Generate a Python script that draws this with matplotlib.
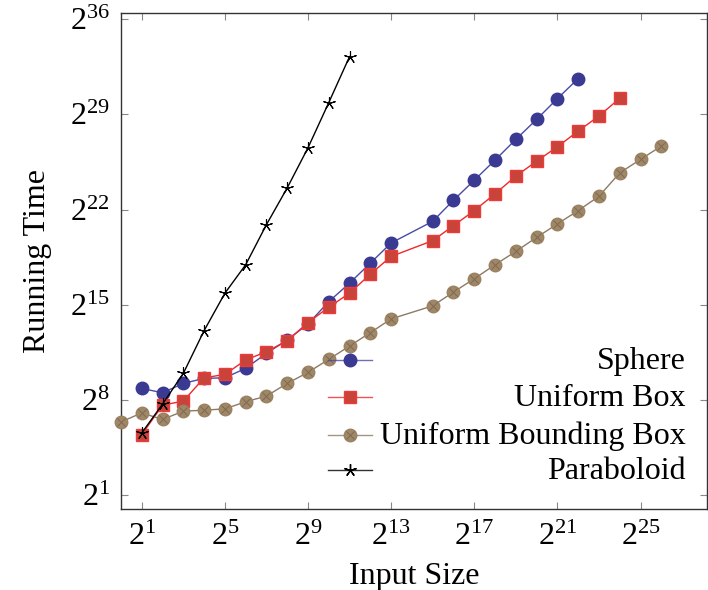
import numpy as np
import matplotlib
matplotlib.use("Agg")
import matplotlib.pyplot as plt

plt.rcParams["font.family"] = "Liberation Serif"
plt.rcParams["mathtext.fontset"] = "custom"
plt.rcParams["mathtext.rm"] = "Liberation Serif"
plt.rcParams["mathtext.it"] = "Liberation Serif:italic"

# exponents (log2)
sphere_x = [1, 2, 3, 4, 5, 6, 7, 8, 9, 10, 11, 12, 13, 15, 16, 17, 18, 19, 20, 21, 22]
sphere_y = [8.86, 8.54, 9.23, 9.6, 9.64, 10.34, 11.44, 12.42, 13.6, 15.24, 16.6,
            18.07, 19.55, 21.14, 22.69, 24.16, 25.64, 27.16, 28.63, 30.16, 31.63]

box_x = [1, 2, 3, 4, 5, 6, 7, 8, 9, 10, 11, 12, 13, 15, 16, 17, 18, 19, 20, 21, 22, 23, 24]
box_y = [5.47, 7.63, 7.93, 9.64, 9.89, 10.95, 11.56, 12.37, 13.7, 14.83, 15.86, 17.26,
         18.56, 19.72, 20.82, 21.93, 23.16, 24.46, 25.56, 26.62, 27.77, 28.88, 30.18]

bbox_x = [0, 1, 2, 3, 4, 5, 6, 7, 8, 9, 10, 11, 12, 13, 15, 16, 17, 18, 19, 20, 21,
          22, 23, 24, 25, 26]
bbox_y = [6.40, 7.06, 6.58, 7.19, 7.26, 7.36, 7.88, 8.30, 9.23, 10.04, 11.0, 11.98,
          12.96, 13.97, 14.93, 15.94, 16.92, 17.95, 18.93, 19.96, 20.95, 21.93, 22.98,
          24.70, 25.69, 26.67]

para_x = [1, 2, 3, 4, 5, 6, 7, 8, 9, 10, 11]
para_y = [5.59, 7.71, 9.97, 13.11, 15.86, 17.95, 20.9, 23.6, 26.55, 29.87, 33.25]

labels = ["Sphere", "Uniform Box", "Uniform Bounding Box", "Paraboloid"]
xticks = [1, 5, 9, 13, 17, 21, 25]
yticks = [1, 8, 15, 22, 29, 36]

def p2(e):
    return np.power(2.0, np.array(e, dtype=float))

styles = [
    dict(color="#4a4aa8", lw=1.0, marker="o", ms=9, mfc="#3a3a92", mec="#3a3a92"),
    dict(color="#f02828", lw=1.0, marker="s", ms=8.5, mfc="#c8443a", mec="#f03a3a"),
    dict(color="#8c7a66", lw=1.0, marker="o", ms=9, mfc="#a08866", mec="#9a8262"),
    dict(color="black", lw=1.0, marker=(5, 2, 0), ms=9, mfc="black", mec="black", mew=0.8),
]

fig = plt.figure(figsize=(7.08, 5.9), dpi=100)
ax = fig.add_axes([121 / 708, 1 - 509 / 590, 586 / 708, 496 / 590])

series = [(sphere_x, sphere_y), (box_x, box_y), (bbox_x, bbox_y), (para_x, para_y)]
for (xs, ys), st in zip(series, styles):
    ax.plot(p2(xs), p2(ys), zorder=3, clip_on=False, **st)
# crossed circles for bounding box
ax.plot(p2(bbox_x), p2(bbox_y), ls="none", marker="x", ms=6, mec="#7d6a55",
        mew=0.7, zorder=4, clip_on=False)

ax.set_xscale("log", base=2)
ax.set_yscale("log", base=2)
ax.set_xlim(2.0 ** 0, 2.0 ** 28.2)
ax.set_ylim(2.0 ** 0, 2.0 ** 36.45)
ax.set_xticks(p2(xticks))
ax.set_xticklabels([r"$\mathregular{2^{%d}}$" % e for e in xticks])
ax.set_yticks(p2(yticks))
ax.set_yticklabels([r"$\mathregular{2^{%d}}$" % e for e in yticks])
ax.minorticks_off()
ax.tick_params(direction="in", length=5, width=0.8, color="#888888",
               top=True, right=True, labelsize=23, pad=8)
ax.tick_params(axis="x", pad=10)
for s in ax.spines.values():
    s.set_linewidth(1.0)
    s.set_color("#333333")

ax.set_xlabel("Input Size", fontsize=23, labelpad=7)
ax.set_ylabel("Running Time", fontsize=23, labelpad=13)

# legend drawn by hand so the text sits right-aligned
rows = [0.301, 0.225, 0.149, 0.078]
for i, (lab, st) in enumerate(zip(labels, styles)):
    y = rows[i]
    ax.plot([0.353, 0.428], [y, y], transform=ax.transAxes, color=st["color"],
            lw=1.0, alpha=0.8, zorder=5)
    ax.plot([0.391], [y], transform=ax.transAxes, ls="none", marker=st["marker"],
            ms=st["ms"], mfc=st["mfc"], mec=st["mec"], zorder=6)
    if i == 2:
        ax.plot([0.391], [y], transform=ax.transAxes, ls="none", marker="x", ms=6,
                mec="#7d6a55", mew=0.7, zorder=7)
    ax.text(0.964, y - 0.018, lab, transform=ax.transAxes, ha="right",
            va="baseline", fontsize=23, zorder=6)

fig.savefig("out.png", dpi=100)
